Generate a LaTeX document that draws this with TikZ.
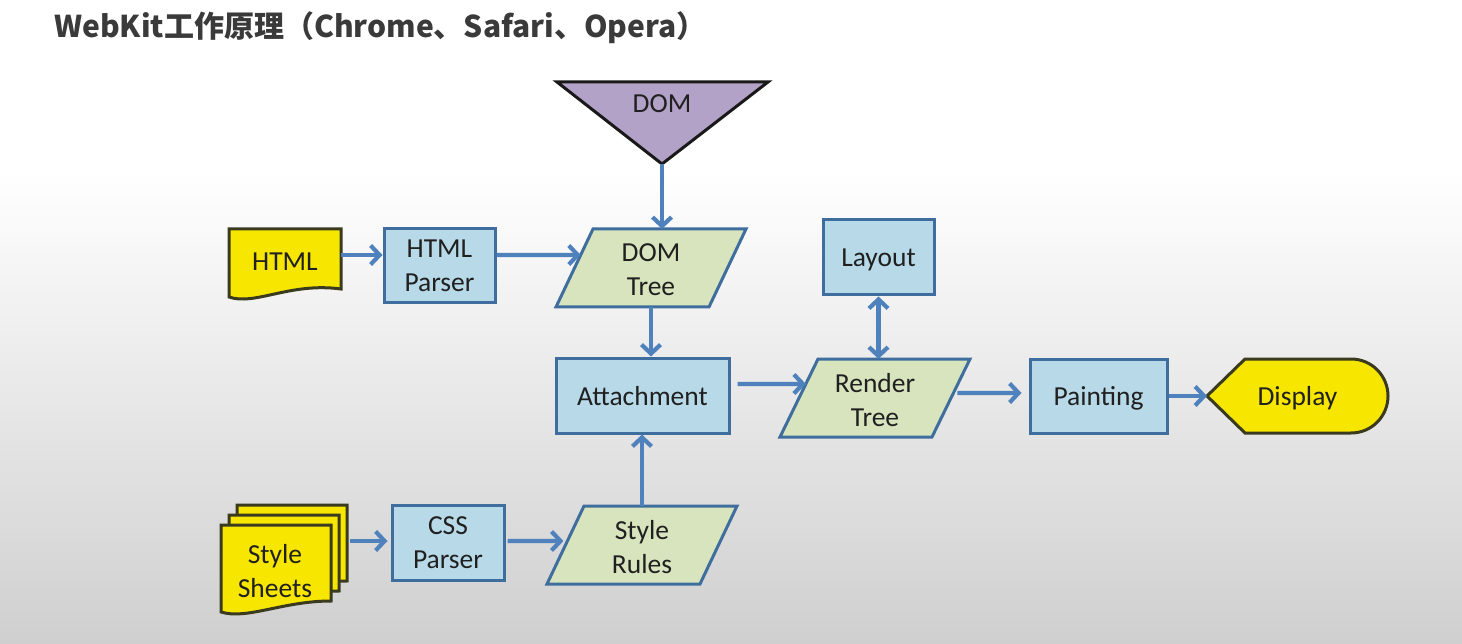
\documentclass[tikz,border=0pt]{standalone}
\usepackage{fontspec}
\setmainfont{Carlito}
\newfontfamily\cjk{Noto Sans CJK SC}
\usetikzlibrary{arrows.meta,calc}
\definecolor{arrc}{HTML}{4F81BD}
\definecolor{boxline}{HTML}{3F6E9E}
\definecolor{boxfill}{HTML}{B8DAE8}
\definecolor{parafill}{HTML}{D7E4BD}
\definecolor{domfill}{HTML}{B3A2C7}
\definecolor{docfill}{HTML}{F7E600}
\definecolor{docline}{HTML}{3A3A1E}
\definecolor{txtc}{HTML}{202020}
\definecolor{titlec}{HTML}{3A3A3A}
\definecolor{bgg}{HTML}{CFCFCF}
\begin{document}
\begin{tikzpicture}[x=1pt,y=-1pt,
  lbl/.style={font=\fontsize{27.5}{34}\selectfont, text=txtc, align=center, inner sep=0pt},
  box/.style={lbl, draw=boxline, fill=boxfill, line width=3pt, text depth=0pt, inner ysep=0pt},
  ghost/.style={lbl, draw=none, outer sep=0pt},
  parast/.style={draw=boxline, fill=parafill, line width=3pt, line join=miter},
  docst/.style={draw=docline, fill=docfill, line width=3pt},
  arr/.style={draw=arrc, line width=4.2pt, -{Straight Barb[length=9pt,width=19pt]}},
  arrboth/.style={draw=arrc, line width=4.2pt, {Straight Barb[length=9pt,width=19pt]}-{Straight Barb[length=9pt,width=19pt]}},
  pics/sdoc/.style={code={
    \draw[docst] (0,0) -- (110,0) -- (110,76) .. controls (62,76) and (26,95) .. (0,87) -- cycle;}}
]
\useasboundingbox (0,0) rectangle (1462,644);
\fill[white] (0,0) rectangle (1462,644);
\shade[top color=white, bottom color=bgg] (0,170) rectangle (1462,644);

% title
\node[anchor=west, inner sep=0pt, text=titlec, font=\cjk\bfseries\fontsize{30}{35}\selectfont] (title) at (54,28) {WebKit工作原理（Chrome、Safari、Opera）};

% DOM triangle
\draw[draw=black!90, fill=domfill, line width=3pt, line join=miter] (557,82) -- (768,82) -- (662,164) -- cycle;
\node[ghost, minimum width=211, minimum height=82] (dom) at (662,123) {};
\node[lbl] (domtxt) at (662,104) {DOM};

% HTML document
\draw[docst] (229,229) -- (341,229) -- (341,289) .. controls (290,282) and (255,306) .. (229,297) -- cycle;
\node[ghost, minimum width=112, minimum height=60] (html) at (285,262) {HTML};

% Style Sheets stack
\pic at (237,505) {sdoc};
\pic at (229,515) {sdoc};
\pic at (221,525) {sdoc};
\node[ghost, minimum width=150, minimum height=70] (ss) at (275,571) {Style\\Sheets};

% parallelograms
\coordinate (dttl) at (593,229); \coordinate (dttr) at (746,229);
\coordinate (dtbr) at (709,307); \coordinate (dtbl) at (556,307);
\draw[parast] (dttl) -- (dttr) -- (dtbr) -- (dtbl) -- cycle;
\node[ghost, minimum width=190, minimum height=78] (dt) at (651,268) {};
\node[lbl] (dttxt) at (651,270) {DOM\\Tree};

\coordinate (rttl) at (818,359); \coordinate (rttr) at (970,359);
\coordinate (rtbr) at (932,437); \coordinate (rtbl) at (780,437);
\draw[parast] (rttl) -- (rttr) -- (rtbr) -- (rtbl) -- cycle;
\node[ghost, minimum width=190, minimum height=78] (rt) at (875,398) {};
\node[lbl] (rttxt) at (875,400) {Render\\Tree};

\coordinate (srtl) at (584,506); \coordinate (srtr) at (737,506);
\coordinate (srbr) at (700,584); \coordinate (srbl) at (547,584);
\draw[parast] (srtl) -- (srtr) -- (srbr) -- (srbl) -- cycle;
\node[ghost, minimum width=190, minimum height=78] (sr) at (642,545) {};
\node[lbl] (srtxt) at (642,547) {Style\\Rules};

% Display
\draw[docst] (1207,396) -- (1245,359) -- (1351,359) .. controls (1372,359) and (1388,376) .. (1388,396) .. controls (1388,416) and (1372,433) .. (1351,433) -- (1245,433) -- cycle;
\node[ghost, minimum width=181, minimum height=74] (disp) at (1297.5,398) {Display};

% process boxes
\node[box, minimum width=111, minimum height=74] (hp) at (439.5,266) {HTML\\Parser};
\node[box, minimum width=111, minimum height=75] (lay) at (878.5,257.5) {Layout};
\node[box, minimum width=173, minimum height=75] (att) at (642.5,395.5) {Attachment};
\node[box, minimum width=137, minimum height=74] (pt) at (1098.5,396) {Painting};
\node[box, minimum width=112, minimum height=75] (css) at (448,542.5) {CSS\\Parser};

% connectors
\draw[arr] (html.east |- 0,255) -- (hp.west |- 0,255);
\draw[arr] (hp.east |- 0,255) -- (intersection of 0,255--1,255 and dtbl--dttl);
\draw[arr] (dom.south) -- (dom.south |- dt.north);
\draw[arr] (dt.south) -- (dt.south |- att.north);
\draw[arr, shorten <=7pt] (att.east |- 0,384) -- (intersection of 0,384--1,384 and rtbl--rttl);
\draw[arrboth] (lay.south) -- (lay.south |- rt.north);
\draw[arr, shorten <=4pt, shorten >=7pt] (intersection of 0,393--1,393 and rtbr--rttr) -- (pt.west |- 0,393);
\draw[arr] (pt.east) -- (disp.west |- pt.east);
\draw[arr, shorten >=3pt] (ss.east |- 0,541) -- (css.west |- 0,541);
\draw[arr, shorten <=2pt, shorten >=4pt] (css.east |- 0,541) -- (intersection of 0,541--1,541 and srbl--srtl);
\draw[arr] (sr.north) -- (sr.north |- att.south);
\end{tikzpicture}
\end{document}
